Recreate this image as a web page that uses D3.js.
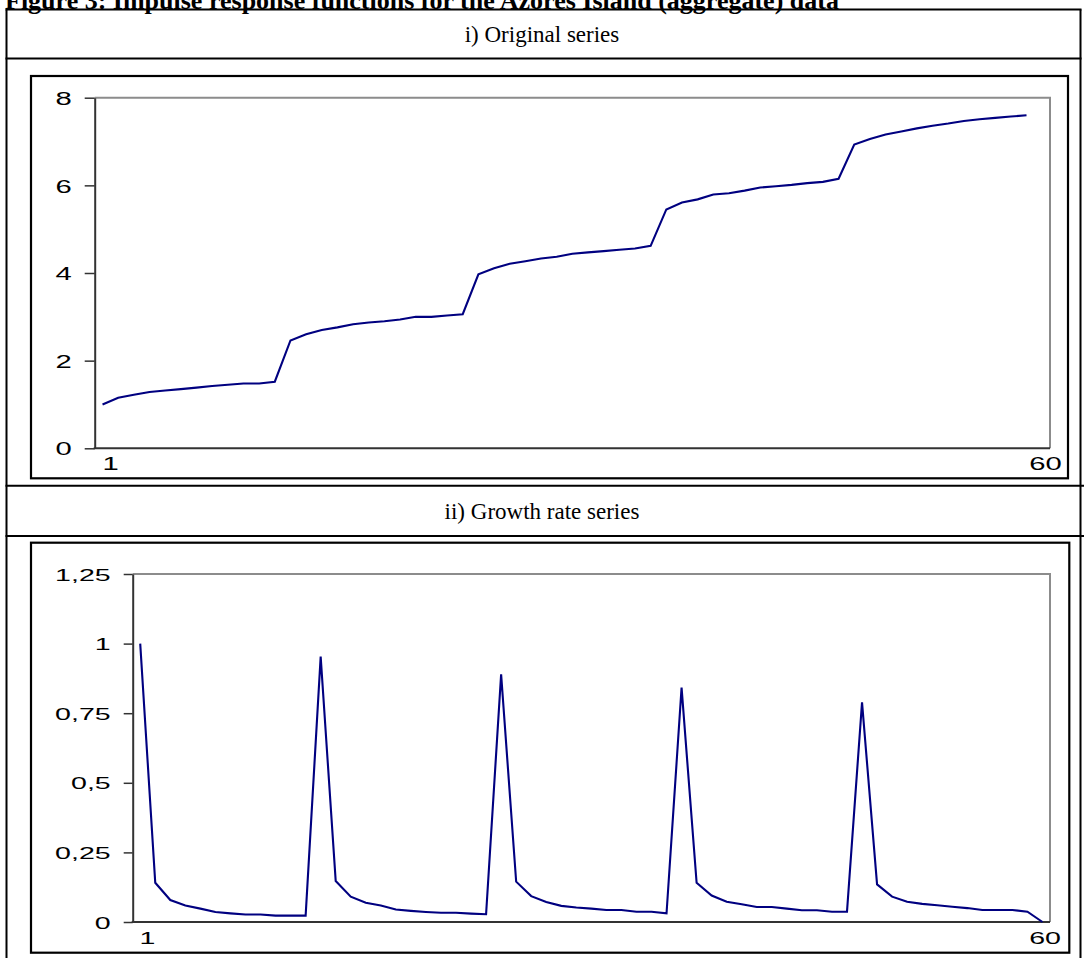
<!DOCTYPE html>
<html><head><meta charset="utf-8">
<script src="https://cdn.jsdelivr.net/npm/d3@7"></script>
<style>body{margin:0;background:#fff}svg{display:block}</style>
</head><body>
<svg id="c" width="1084" height="958"></svg>
<script>
// ---------------- data ----------------
const titleText = "Figure 3: Impulse response functions for the Azores Island (aggregate) data";
const panelTitles = ["i) Original series", "ii) Growth rate series"];
const periods = d3.range(1, 62); // 61 category slots on the horizontal axis
const originalSeries = [
  1.00, 1.155, 1.22, 1.285, 1.32, 1.35, 1.385, 1.42, 1.45, 1.48,
  1.48, 1.52, 2.46, 2.60, 2.70, 2.76, 2.83, 2.87, 2.90, 2.94,
  3.00, 3.00, 3.03, 3.06, 3.97, 4.11, 4.21, 4.27, 4.33, 4.37,
  4.44, 4.47, 4.50, 4.53, 4.56, 4.62, 5.45, 5.61, 5.68, 5.79,
  5.82, 5.88, 5.95, 5.98, 6.01, 6.05, 6.08, 6.15, 6.93, 7.06,
  7.16, 7.23, 7.30, 7.36, 7.41, 7.47, 7.51, 7.54, 7.57, 7.60
];
const growthSeries = [
  1.00, 0.141, 0.079, 0.059, 0.048, 0.036, 0.031, 0.027, 0.027, 0.023,
  0.023, 0.023, 0.953, 0.147, 0.091, 0.069, 0.059, 0.045, 0.040, 0.036,
  0.033, 0.033, 0.030, 0.028, 0.890, 0.145, 0.093, 0.072, 0.058, 0.052,
  0.048, 0.043, 0.043, 0.037, 0.037, 0.031, 0.842, 0.141, 0.095, 0.073,
  0.064, 0.054, 0.054, 0.048, 0.042, 0.042, 0.037, 0.037, 0.789, 0.135,
  0.091, 0.073, 0.065, 0.060, 0.055, 0.050, 0.043, 0.043, 0.043, 0.037,
  0.000
];
const xTickLabels = ["1", "60"];
const yTicksOriginal = [0, 2, 4, 6, 8];
const yTicksGrowth = [0, 0.25, 0.5, 0.75, 1, 1.25];
const yFormatGrowth = d => String(d).replace(".", ",");

// ---------------- layout ----------------
const svg = d3.select("#c");
const lineColor = "#000080";

// caption (cut at the top of the page, as in the source)
svg.append("text")
  .attr("x", 5).attr("y", 8.5)
  .attr("font-family", "Liberation Serif, Times New Roman, serif")
  .attr("font-weight", "bold").attr("font-size", 26)
  .text(titleText);

// table frame
const tbl = svg.append("g").attr("stroke", "#000").attr("stroke-width", 2).attr("fill", "none");
[[6.5, 9.5, 6.5, 958], [1080.5, 9.5, 1080.5, 958], [5.5, 9.5, 1081.5, 9.5],
 [5.5, 58.5, 1081.5, 58.5], [5.5, 485.7, 1084, 485.7], [5.5, 536, 1084, 536]]
  .forEach(l => tbl.append("line").attr("x1", l[0]).attr("y1", l[1]).attr("x2", l[2]).attr("y2", l[3]));

// panel headings
[[panelTitles[0], 42], [panelTitles[1], 519]].forEach(t => {
  svg.append("text").attr("x", 542).attr("y", t[1])
    .attr("text-anchor", "middle")
    .attr("font-family", "Liberation Serif, Times New Roman, serif")
    .attr("font-size", 23).text(t[0]);
});

function drawPanel(cfg) {
  const g = svg.append("g");
  // chart box
  g.append("rect").attr("x", cfg.box[0]).attr("y", cfg.box[1])
    .attr("width", cfg.box[2] - cfg.box[0]).attr("height", cfg.box[3] - cfg.box[1])
    .attr("fill", "#fff").attr("stroke", "#000").attr("stroke-width", 2.2);

  const x = d3.scaleLinear().domain([0.5, periods.length + 0.5]).range([cfg.x0, cfg.x1]);
  const y = d3.scaleLinear().domain(cfg.yDomain).range([cfg.yBot, cfg.yTop]);

  // plot-area border (grey top & right)
  g.append("path")
    .attr("d", `M${cfg.x0},${cfg.yTop}H${cfg.x1}V${cfg.yBot}`)
    .attr("fill", "none").attr("stroke", "#8c8c8c").attr("stroke-width", 2);

  // y axis
  const ya = g.append("g").attr("transform", `translate(${cfg.x0},0)`)
    .call(d3.axisLeft(y).tickValues(cfg.yTicks).tickFormat(cfg.yFormat).tickSize(cfg.tick).tickSizeOuter(0));
  ya.select(".domain").attr("stroke", "#333").attr("stroke-width", 2);
  ya.selectAll(".tick line").attr("stroke", "#333").attr("stroke-width", 1.5);
  ya.selectAll(".tick text")
    .attr("x", 0).attr("dy", "0.36em")
    .attr("transform", `translate(${-cfg.tick - cfg.gap},0) scale(${cfg.sx},1)`)
    .attr("font-family", "Liberation Sans, Arial, sans-serif")
    .attr("font-size", cfg.fs).attr("fill", "#000");

  // x axis
  const xa = g.append("g").attr("transform", `translate(0,${cfg.yBot})`)
    .call(d3.axisBottom(x).tickValues(cfg.xLabelAt).tickFormat((d, i) => xTickLabels[i]).tickSize(0).tickSizeOuter(0));
  xa.select(".domain").attr("stroke", "#333").attr("stroke-width", 2)
    .attr("d", `M${cfg.x0 - 1},0H${cfg.x1}`);
  xa.selectAll(".tick text")
    .attr("y", 0).attr("dy", "0.36em")
    .attr("transform", `translate(0,${cfg.xlabOff}) scale(${cfg.sx},1)`)
    .attr("font-family", "Liberation Sans, Arial, sans-serif")
    .attr("font-size", cfg.fs).attr("fill", "#000");

  // series line
  const line = d3.line().x((d, i) => x(periods[i])).y(d => y(d));
  g.append("path").datum(cfg.data).attr("d", line)
    .attr("fill", "none").attr("stroke", lineColor).attr("stroke-width", 2.1)
    .attr("stroke-linejoin", "miter");
}

drawPanel({
  box: [31, 76, 1068, 478.3],
  x0: 94.7, x1: 1050, yTop: 97.7, yBot: 448.3,
  yDomain: [0, 8], yTicks: yTicksOriginal, yFormat: d => String(d),
  data: originalSeries, tick: 10, gap: 13, fs: 18.5, sx: 1.58,
  xLabelAt: [1.48, 61.18], xlabOff: 15
});
drawPanel({
  box: [31, 542.7, 1069.3, 952.7],
  x0: 132.7, x1: 1050, yTop: 574, yBot: 922,
  yDomain: [0, 1.25], yTicks: yTicksGrowth, yFormat: yFormatGrowth,
  data: growthSeries, tick: 9, gap: 13, fs: 17, sx: 1.68,
  xLabelAt: [1.45, 61.14], xlabOff: 15.5
});
</script>
</body></html>
